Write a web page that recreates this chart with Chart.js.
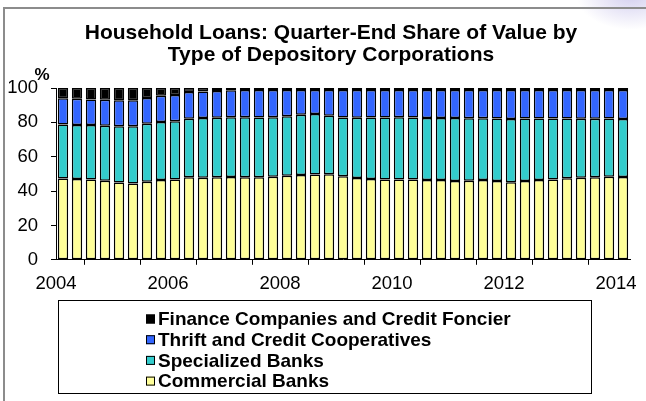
<!DOCTYPE html>
<html>
<head>
<meta charset="utf-8">
<script src="https://cdn.jsdelivr.net/npm/chart.js@4.4.1/dist/chart.umd.min.js"></script>
<style>
  html, body { margin: 0; padding: 0; background: #fff; }
  #wrap { position: relative; width: 646px; height: 401px; overflow: hidden; }
  #frame { position: absolute; left: 3px; top: 7px; width: 700px; height: 500px;
           border-left: 2px solid #8c8c8c; border-top: 2px solid #8c8c8c; }
  #glow { position: absolute; right: -40px; top: -40px; width: 110px; height: 70px;
          background: radial-gradient(ellipse at center, rgba(200,195,235,0.8), rgba(255,255,255,0) 70%); }
  canvas { position: absolute; left: 0; top: 0; }
</style>
</head>
<body>
<div id="wrap">
  <div id="glow"></div>
  <div id="frame"></div>
  <canvas id="chart" width="646" height="401"></canvas>
</div>
<script>
// quarter-end observations, 2004Q1 .. 2014Q1
var quarters = [
  '2004Q1','2004Q2','2004Q3','2004Q4','2005Q1','2005Q2','2005Q3','2005Q4',
  '2006Q1','2006Q2','2006Q3','2006Q4','2007Q1','2007Q2','2007Q3','2007Q4',
  '2008Q1','2008Q2','2008Q3','2008Q4','2009Q1','2009Q2','2009Q3','2009Q4',
  '2010Q1','2010Q2','2010Q3','2010Q4','2011Q1','2011Q2','2011Q3','2011Q4',
  '2012Q1','2012Q2','2012Q3','2012Q4','2013Q1','2013Q2','2013Q3','2013Q4',
  '2014Q1'
];

// shares in %
var commercial = [
  47.3, 47.0, 46.7, 46.0, 45.0, 44.4, 45.4, 46.5, 46.8, 48.0, 47.7, 48.0,
  48.2, 48.1, 48.1, 48.3, 48.9, 49.4, 49.6, 49.8, 48.6, 47.6, 47.1, 46.8,
  46.8, 46.8, 46.5, 46.4, 45.9, 46.0, 46.4, 45.8, 45.2, 45.8, 46.4, 46.7,
  47.4, 47.8, 48.1, 48.3, 48.2
];
var specialized = [
  31.4, 31.5, 31.7, 32.0, 32.8, 33.3, 33.8, 33.7, 33.9, 34.1, 34.8, 34.7,
  34.8, 34.9, 34.8, 34.7, 34.6, 35.0, 35.3, 34.0, 34.2, 35.1, 35.7, 36.1,
  36.2, 36.1, 36.0, 36.2, 36.7, 36.4, 36.0, 36.4, 36.8, 36.4, 35.8, 35.5,
  34.8, 34.3, 34.0, 33.9, 33.8
];
var thrift = [
  15.4, 15.2, 14.9, 15.1, 15.1, 15.1, 15.0, 15.3, 15.2, 15.5, 15.5, 15.5,
  15.7, 15.8, 15.9, 15.8, 15.3, 14.5, 14.0, 15.1, 16.1, 16.2, 16.1, 16.0,
  15.9, 16.0, 16.4, 16.3, 16.3, 16.5, 16.5, 16.7, 16.9, 16.7, 16.7, 16.7,
  16.7, 16.8, 16.8, 16.7, 16.9
];
var finance = [
  5.9, 6.3, 6.7, 6.9, 7.1, 7.2, 5.8, 4.5, 4.1, 2.4, 2.0, 1.8,
  1.3, 1.2, 1.2, 1.2, 1.2, 1.1, 1.1, 1.1, 1.1, 1.1, 1.1, 1.1,
  1.1, 1.1, 1.1, 1.1, 1.1, 1.1, 1.1, 1.1, 1.1, 1.1, 1.1, 1.1,
  1.1, 1.1, 1.1, 1.1, 1.1
];

var seriesNames = ['Commercial Banks', 'Specialized Banks', 'Thrift and Credit Cooperatives', 'Finance Companies and Credit Foncier'];
var seriesColors = ['#ffff99', '#33cccc', '#3366ff', '#000000'];
var yTicks = [0, 20, 40, 60, 80, 100];
var titleLines = ['Household Loans: Quarter-End Share of Value by', 'Type of Depository Corporations'];

var FONT = 'Arial, "Liberation Sans", sans-serif';

function qPos(label) {
  var yr = parseInt(label.slice(0, 4), 10);
  var q = parseInt(label.slice(5), 10);
  return yr + (q - 0.5) / 4;
}

function toPoints(vals) {
  return vals.map(function(v, i) { return { x: qPos(quarters[i]), y: v }; });
}

var seriesData = [commercial, specialized, thrift, finance];
var datasets = seriesData.map(function(vals, k) {
  return {
    label: seriesNames[k],
    data: toPoints(vals),
    backgroundColor: seriesColors[k],
    borderColor: '#000',
    borderWidth: 1.5,
    borderSkipped: false,
    stack: 'share',
    barPercentage: 0.74,
    categoryPercentage: 1.0
  };
});

// title (sits a little right of canvas centre, as in the source), the "%" unit
// label and the boxed legend (top entry = top of the stack)
var extras = {
  id: 'extras',
  afterDraw: function(chart) {
    var ctx = chart.ctx, a = chart.chartArea;
    ctx.save();
    ctx.fillStyle = '#000';
    ctx.textAlign = 'center';
    ctx.textBaseline = 'middle';

    ctx.font = 'bold 21px ' + FONT;
    titleLines.forEach(function(t, i) {
      ctx.fillText(t, chart.width / 2 + 8, 33 + i * 22);
    });

    ctx.font = 'bold 17px ' + FONT;
    ctx.fillText('%', a.left - 14, a.top - 13);

    var bx = a.left + 2, by = 300, bw = 533, bh = 93;
    ctx.strokeStyle = '#000';
    ctx.lineWidth = 1;
    ctx.strokeRect(bx + 0.5, by + 0.5, bw, bh);

    ctx.font = 'bold 19px ' + FONT;
    ctx.textAlign = 'left';
    var ds = chart.data.datasets.slice().reverse();
    ds.forEach(function(d, i) {
      var cy = by + 19 + i * 20.7;
      ctx.fillStyle = d.backgroundColor;
      ctx.fillRect(bx + 88, cy - 4.5, 9, 9);
      ctx.strokeRect(bx + 88.5, cy - 4, 8, 8);
      ctx.fillStyle = '#000';
      ctx.fillText(d.label, bx + 100, cy + 1);
    });
    ctx.restore();
  }
};

new Chart(document.getElementById('chart'), {
  type: 'bar',
  data: { datasets: datasets },
  plugins: [extras],
  options: {
    responsive: false,
    animation: false,
    layout: { padding: { left: 4, right: 16, top: 88, bottom: 98 } },
    plugins: {
      legend: { display: false },
      tooltip: { enabled: false },
      title: { display: false }
    },
    scales: {
      x: {
        type: 'linear',
        min: parseInt(quarters[0], 10),
        max: qPos(quarters[quarters.length - 1]) + 0.125,
        offset: false,
        grid: { display: true, drawOnChartArea: false, drawTicks: true, tickLength: 5, color: '#000' },
        border: { display: true, color: '#000', width: 1 },
        ticks: {
          stepSize: 1,
          includeBounds: false,
          autoSkip: false,
          maxRotation: 0,
          color: '#000',
          padding: 8,
          font: { family: FONT, size: 18.5, lineHeight: 1.2 },
          callback: function(v) { return v % 2 === 0 ? String(v) : ''; }
        }
      },
      y: {
        stacked: true,
        min: yTicks[0],
        max: yTicks[yTicks.length - 1],
        grid: { display: true, drawOnChartArea: false, drawTicks: true, tickLength: 5, color: '#000' },
        border: { display: true, color: '#000', width: 1 },
        ticks: {
          stepSize: yTicks[1] - yTicks[0],
          color: '#000',
          padding: 13,
          font: { family: FONT, size: 18.5 }
        },
        afterFit: function(scale) { scale.width = 52; }
      }
    }
  }
});
</script>
</body>
</html>
